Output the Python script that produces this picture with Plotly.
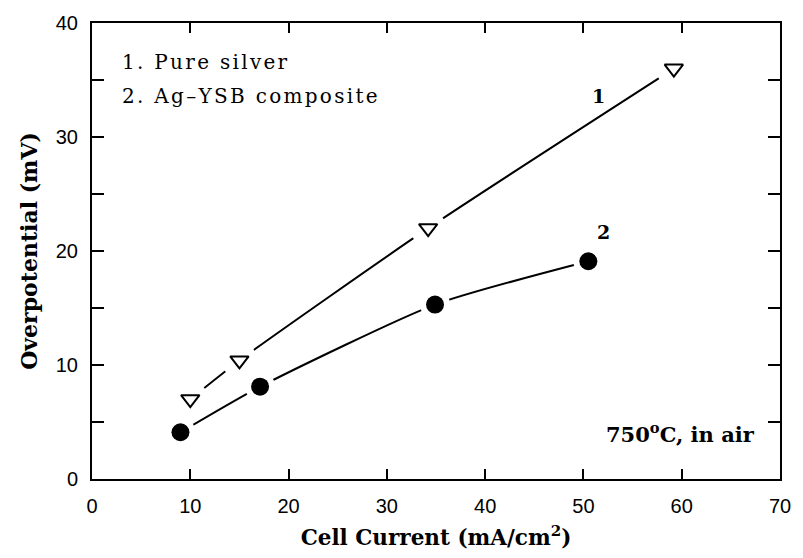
import plotly.graph_objects as go

# Data
silver_x = [10.0, 15.0, 34.2, 59.2]
silver_y = [7.0, 10.4, 22.0, 36.0]
comp_x = [9.0, 17.1, 34.9, 50.5]
comp_y = [4.1, 8.1, 15.3, 19.1]

x_ticks = [0, 10, 20, 30, 40, 50, 60, 70]
y_ticks = [0, 10, 20, 30, 40]

fig = go.Figure()

# curves
fig.add_trace(go.Scatter(x=silver_x, y=silver_y, mode="lines",
                         line=dict(color="black", width=2, shape="spline", smoothing=0.6),
                         hoverinfo="skip", showlegend=False))
fig.add_trace(go.Scatter(x=comp_x, y=comp_y, mode="lines",
                         line=dict(color="black", width=2, shape="spline", smoothing=0.6),
                         hoverinfo="skip", showlegend=False))
# white masks to create gaps around markers
fig.add_trace(go.Scatter(x=silver_x, y=silver_y, mode="markers",
                         marker=dict(symbol="circle", size=36, color="white", line=dict(width=0)),
                         hoverinfo="skip", showlegend=False))
fig.add_trace(go.Scatter(x=comp_x, y=comp_y, mode="markers",
                         marker=dict(symbol="circle", size=30, color="white", line=dict(width=0)),
                         hoverinfo="skip", showlegend=False))
# markers
fig.add_trace(go.Scatter(x=silver_x, y=silver_y, mode="markers", name="1. Pure silver",
                         marker=dict(symbol="triangle-down-open", size=16, color="black",
                                     line=dict(width=2, color="black")),
                         showlegend=False))
fig.add_trace(go.Scatter(x=comp_x, y=comp_y, mode="markers", name="2. Ag-YSB composite",
                         marker=dict(symbol="circle", size=18, color="black"),
                         showlegend=False))

serif = "DejaVu Serif"
sp = '<span style="letter-spacing:2.3px">{}</span>'
fig.add_annotation(x=0.04, y=0.915, xref="paper", yref="paper", text=sp.format("1. Pure silver"),
                   showarrow=False, xanchor="left", yanchor="middle",
                   font=dict(family=serif, size=20, color="black"))
fig.add_annotation(x=0.04, y=0.84, xref="paper", yref="paper", text=sp.format("2. Ag\u2013YSB composite"),
                   showarrow=False, xanchor="left", yanchor="middle",
                   font=dict(family=serif, size=20, color="black"))
fig.add_annotation(x=51.5, y=33.6, text="<b>1</b>", showarrow=False,
                   font=dict(family=serif, size=19, color="black"))
fig.add_annotation(x=52.0, y=21.7, text="<b>2</b>", showarrow=False,
                   font=dict(family=serif, size=19, color="black"))
fig.add_annotation(x=0.967, y=0.1, xref="paper", yref="paper",
                   text="<b>750<sup>o</sup>C, in air</b>", showarrow=False,
                   xanchor="right", yanchor="middle",
                   font=dict(family=serif, size=21, color="black"))

fig.update_layout(
    width=803, height=558,
    margin=dict(l=92, r=16, t=21, b=79),
    paper_bgcolor="white", plot_bgcolor="white",
    font=dict(family="Liberation Sans", color="black"),
    showlegend=False,
)
fig.update_xaxes(range=[0, 70], tickvals=x_ticks, ticktext=[str(v) for v in x_ticks],
                 ticks="inside", ticklen=10, tickwidth=2, tickcolor="black",
                 showline=True, linewidth=2, linecolor="black", mirror="ticks",
                 showgrid=False, zeroline=False,
                 tickfont=dict(family="Liberation Sans", size=20, color="black"),
                 ticklabelstandoff=8,
                 title=dict(text="<b>Cell Current (mA/cm<sup>2</sup>)</b>",
                            font=dict(family=serif, size=21.5, color="black"), standoff=14))
fig.update_yaxes(range=[0, 40], tickvals=y_ticks, ticktext=[str(v) for v in y_ticks],
                 ticks="inside", ticklen=12, tickwidth=2, tickcolor="black",
                 minor=dict(dtick=5, ticks="inside", ticklen=12, tickwidth=2, tickcolor="black", showgrid=False),
                 showline=True, linewidth=2, linecolor="black", mirror="ticks",
                 showgrid=False, zeroline=False,
                 tickfont=dict(family="Liberation Sans", size=20, color="black"),
                 ticklabelstandoff=8,
                 title=dict(text="<b>Overpotential (mV)</b>",
                            font=dict(family=serif, size=22, color="black"), standoff=12))

fig.write_html("out.html")
